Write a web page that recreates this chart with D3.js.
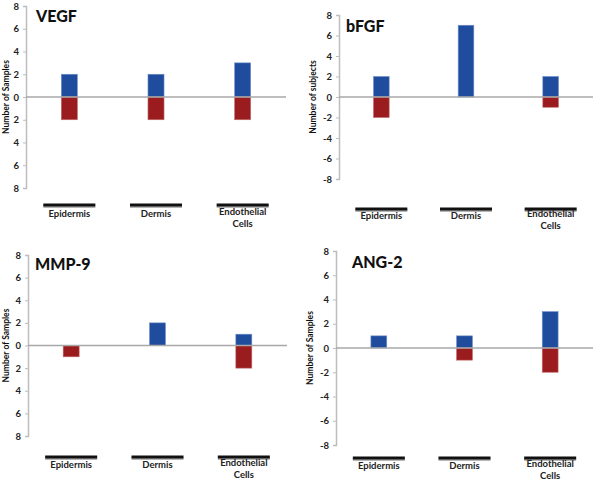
<!DOCTYPE html>
<html>
<head>
<meta charset="utf-8">
<script src="https://cdn.jsdelivr.net/npm/d3@7"></script>
<style>
  body { margin: 0; background: #fff; }
  text { font-family: Lato, "Open Sans", sans-serif; }
</style>
</head>
<body>
<svg width="600" height="482"></svg>
<script>
// chart data
const categories = ["Epidermis", "Dermis", "Endothelial Cells"];

const vegfUp = [2, 2, 3];
const vegfDown = [2, 2, 2];
const bfgfUp = [2, 7, 2];
const bfgfDown = [2, 0, 1];
const mmpUp = [0, 2, 1];
const mmpDown = [1, 0, 2];
const angUp = [1, 1, 3];
const angDown = [0, 1, 2];

const tickValues = [8, 6, 4, 2, 0, -2, -4, -6, -8];
const signedLabels = ["8", "6", "4", "2", "0", "-2", "-4", "-6", "-8"];
const plainLabels = ["8", "6", "4", "2", "0", "2", "4", "6", "8"];

const blue = "#1f4c9c";
const red = "#9b1c1e";

const svg = d3.select("svg");

// one entry per panel, layout only
const panels = [
  {title: "VEGF", up: vegfUp, down: vegfDown, labels: plainLabels, ylab: "Number of Samples",
   ax: 26, top: 6, bot: 188, right: 286, tx: 36, ty: 22, lx: 6, lineY: 205, labY: 217},
  {title: "bFGF", up: bfgfUp, down: bfgfDown, labels: signedLabels, ylab: "Number of subjects",
   ax: 339, top: 15, bot: 179, right: 593, tx: 346, ty: 32, lx: 313, lineY: 209, labY: 219},
  {title: "MMP-9", up: mmpUp, down: mmpDown, labels: plainLabels, ylab: "Number of Samples",
   ax: 28, top: 255, bot: 436, right: 287, tx: 35, ty: 270, lx: 6, lineY: 457, labY: 468},
  {title: "ANG-2", up: angUp, down: angDown, labels: signedLabels, ylab: "Number of Samples",
   ax: 336, top: 251, bot: 445, right: 593, tx: 352, ty: 268, lx: 310, lineY: 458, labY: 469}
];

panels.forEach(function(p) {
  const g = svg.append("g");

  const x = d3.scaleBand()
      .domain(categories)
      .range([p.ax, p.right])
      .paddingInner(0.815)
      .paddingOuter(0.4075);

  const y = d3.scaleLinear()
      .domain([-8, 8])
      .range([p.bot, p.top]);

  // y axis
  const yAxis = g.append("g")
      .attr("transform", "translate(" + p.ax + ",0)")
      .call(d3.axisLeft(y)
        .tickValues(tickValues)
        .tickSize(3)
        .tickFormat(function(d, i) { return p.labels[i]; }));
  yAxis.select(".domain").attr("stroke", "#bdbdbd").attr("stroke-width", 1.5);
  yAxis.selectAll(".tick line").attr("stroke", "#bdbdbd");
  yAxis.selectAll(".tick text")
      .attr("x", -7)
      .attr("fill", "#222")
      .style("font-size", "9.5px")
      .style("font-weight", "bold");

  // bars up
  g.selectAll(".up")
    .data(p.up)
    .enter().append("rect")
      .attr("x", function(d, i) { return x(categories[i]); })
      .attr("y", function(d) { return y(d); })
      .attr("width", x.bandwidth())
      .attr("height", function(d) { return y(0) - y(d); })
      .attr("fill", blue)
      .attr("stroke", "#6f8fc8")
      .attr("stroke-width", 0.6);

  // bars down
  g.selectAll(".down")
    .data(p.down)
    .enter().append("rect")
      .attr("x", function(d, i) { return x(categories[i]); })
      .attr("y", y(0))
      .attr("width", x.bandwidth())
      .attr("height", function(d) { return y(-d) - y(0); })
      .attr("fill", red)
      .attr("stroke", "#c26a6a")
      .attr("stroke-width", function(d) { return d > 0 ? 0.6 : 0; });

  // zero line
  g.append("line")
      .attr("x1", p.ax).attr("x2", p.right)
      .attr("y1", y(0)).attr("y2", y(0))
      .attr("stroke", "#a8a8a8")
      .attr("stroke-width", 1.5);

  // black bars under category names (with a soft shadow below)
  [{dy: 1.5, c: "#b5b5b5"}, {dy: 0, c: "#111"}].forEach(function(s) {
    g.selectAll(".catline")
      .data(categories)
      .enter().append("line")
        .attr("x1", function(d) { return x(d) + x.bandwidth() / 2 - 26; })
        .attr("x2", function(d) { return x(d) + x.bandwidth() / 2 + 26; })
        .attr("y1", p.lineY + s.dy).attr("y2", p.lineY + s.dy)
        .attr("stroke", s.c)
        .attr("stroke-width", 3);
  });

  // category names
  categories.forEach(function(c) {
    const words = c.split(" ");
    const t = g.append("text")
        .attr("x", x(c) + x.bandwidth() / 2)
        .attr("y", words.length > 1 ? p.labY - 2 : p.labY)
        .attr("text-anchor", "middle")
        .attr("fill", "#222")
        .style("font-size", "9.5px")
        .style("font-weight", "bold");
    words.forEach(function(w, i) {
      t.append("tspan")
        .attr("x", x(c) + x.bandwidth() / 2)
        .attr("dy", i === 0 ? 0 : 12)
        .text(w);
    });
  });

  // title
  g.append("text")
      .attr("x", p.tx)
      .attr("y", p.ty)
      .attr("fill", "#111")
      .style("font-size", "16px")
      .style("font-weight", "900")
      .text(p.title);

  // y label
  g.append("text")
      .attr("transform", "translate(" + p.lx + "," + y(0) + ") rotate(-90)")
      .attr("text-anchor", "middle")
      .attr("dy", "0.35em")
      .attr("fill", "#111")
      .style("font-size", "8.5px")
      .style("font-weight", "bold")
      .text(p.ylab);
});
</script>
</body>
</html>
